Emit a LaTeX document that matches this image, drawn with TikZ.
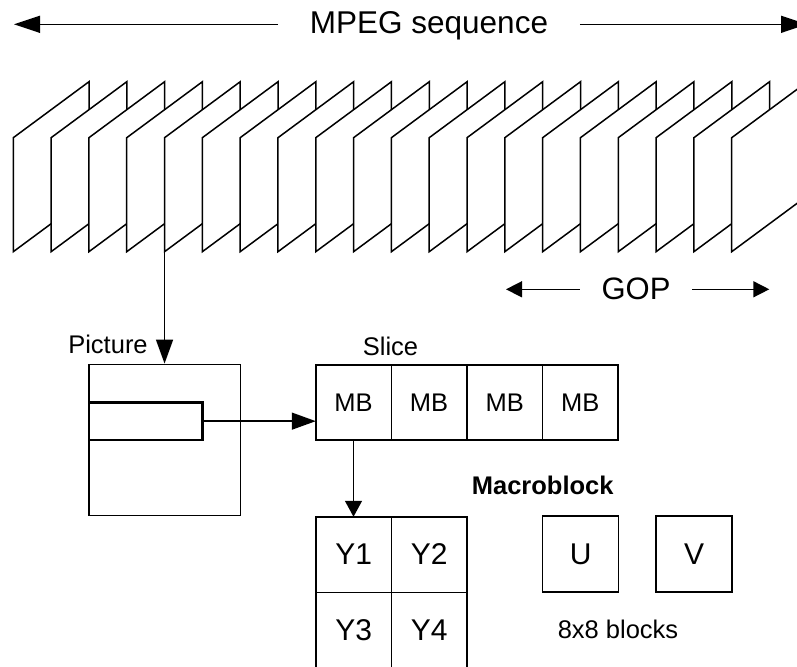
\documentclass[tikz,border=0pt]{standalone}
\usepackage{fontspec}
\setmainfont{Liberation Sans}
\usetikzlibrary{arrows.meta}

\begin{document}
\begin{tikzpicture}[x=1pt,y=-1pt,line width=1.5pt,
  font=\fontsize{25.5}{30}\selectfont,
  bigtip/.style={-{Triangle[length=24pt,width=17pt]}},
  smalltip/.style={-{Triangle[length=16pt,width=16pt]}},
  cell/.style={draw,minimum width=75.5pt,minimum height=75.5pt,inner sep=0pt,outer sep=0pt},
  big/.style={font=\fontsize{30}{34}\selectfont}]
\useasboundingbox (0,0) rectangle (797,666);
\clip (0,0) rectangle (797,666);

% Pictures of the sequence, back to front.
\foreach \i in {0,...,19}{
  \pgfmathsetmacro\fx{13.3+37.81*\i}
  \draw[fill=white] (\fx,251.7) coordinate (fr\i) -- (\fx,137.7)
    -- (\fx+75.7,81.7) -- (\fx+75.7,195.7) -- cycle;
}

% Sequence and GOP spans.
\node[anchor=base,inner xsep=31pt,font=\fontsize{31.5}{36}\selectfont] (mpeg) at (429,33.3) {MPEG sequence};
\coordinate (seqL) at (14,24.3);
\coordinate (seqR) at (807,24.3);
\draw[-{Triangle[length=26pt,width=17pt]}] (mpeg.west |- seqL) -- (seqL);
\draw[-{Triangle[length=26pt,width=17pt]}] (mpeg.east |- seqR) -- (seqR);

\node[anchor=base,inner xsep=21pt,font=\fontsize{31}{36}\selectfont] (gop) at (636,299.3) {GOP};
\coordinate (gopL) at (506,289.3);
\coordinate (gopR) at (769.3,289.3);
\draw[smalltip] (gop.west |- gopL) -- (gopL);
\draw[smalltip] (gop.east |- gopR) -- (gopR);

% Picture with one slice strip.
\node[draw,minimum size=151.3pt,inner sep=0pt] (pic) at (164.7,440) {};
\node[anchor=base] (piclab) at (108,353) {Picture};
\draw[bigtip] (fr4) -- (fr4 |- pic.north);
\node[minimum width=113.7pt,minimum height=37.7pt,inner sep=0pt,outer sep=0pt] (strip) at (145.85,421.15) {};
\draw[line width=2.6pt] (strip.north west) -- (strip.north east) -- (strip.south east) -- (strip.south west);

% Slice of macroblocks.
\foreach \i in {1,...,4}
  \node[cell,minimum height=75pt] (mb\i) at (277.9+75.6*\i,402.5) {MB};
\node[anchor=base] (slicelab) at (390.5,355) {Slice};
\draw[bigtip] (strip.east) -- (strip.east -| mb1.west);

% Macroblock: four luma and two chroma blocks.
\foreach \n/\x/\y in {1/353.7/554.5,2/429.2/554.5,3/353.7/630.2,4/429.2/630.2}
  \node[cell,big] (y\n) at (\x,\y) {Y\n};
\draw[-{Triangle[length=16pt,width=17pt]}] (mb1.south) -- (mb1.south |- y1.north);
\node[cell,big,minimum size=76pt] (u) at (580.7,554) {U};
\node[cell,big,minimum size=76pt] (v) at (694,554) {V};
\node[anchor=base,font=\bfseries\fontsize{25.5}{30}\selectfont] (mblab) at (542.7,494) {Macroblock};
\node[anchor=base] (blklab) at (618,638) {8x8 blocks};
\end{tikzpicture}
\end{document}
